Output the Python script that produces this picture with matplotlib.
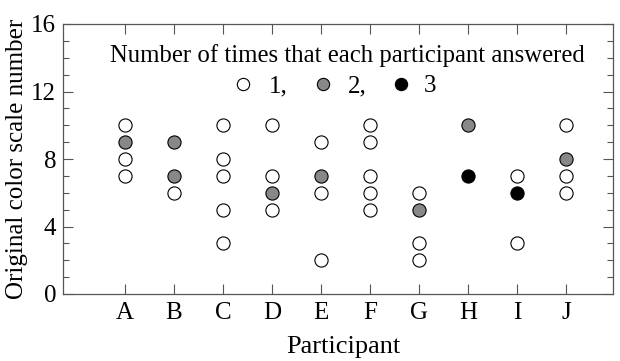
import numpy as np
import matplotlib.pyplot as plt
from matplotlib.ticker import MultipleLocator

# participants and their answers (value, number of times answered)
participants = ["A", "B", "C", "D", "E", "F", "G", "H", "I", "J"]
answers = {
    "A": [(10, 1), (9, 2), (8, 1), (7, 1)],
    "B": [(9, 2), (7, 2), (6, 1)],
    "C": [(10, 1), (8, 1), (7, 1), (5, 1), (3, 1)],
    "D": [(10, 1), (7, 1), (6, 2), (5, 1)],
    "E": [(9, 1), (7, 2), (6, 1), (2, 1)],
    "F": [(10, 1), (9, 1), (7, 1), (6, 1), (5, 1)],
    "G": [(6, 1), (5, 2), (3, 1), (2, 1)],
    "H": [(10, 2), (7, 3)],
    "I": [(7, 1), (6, 3), (3, 1)],
    "J": [(10, 1), (8, 2), (7, 1), (6, 1)],
}
count_colors = {1: "white", 2: "#888888", 3: "black"}
count_labels = {1: "1,", 2: "2,", 3: "3"}

plt.rcParams["font.family"] = "Liberation Serif"

fig = plt.figure(figsize=(6.2, 3.61), dpi=100)
ax = fig.add_axes([63 / 620, 1 - 294 / 361, 550 / 620, 270 / 361])

for count in (1, 2, 3):
    xs, ys = [], []
    for i, p in enumerate(participants):
        for val, n in answers[p]:
            if n == count:
                xs.append(i + 1)
                ys.append(val)
    ax.scatter(xs, ys, s=90, facecolor=count_colors[count], edgecolor="black",
               linewidth=0.8, zorder=3)

ax.set_xlim(1 - 1.265, 10.96)
ax.set_ylim(0, 16)
ax.set_xticks(range(1, len(participants) + 1))
ax.set_xticklabels(participants)
ax.yaxis.set_major_locator(MultipleLocator(4))
ax.yaxis.set_minor_locator(MultipleLocator(1))
ax.tick_params(which="both", direction="in", top=True, right=True, labelsize=18,
               width=0.8, color="#555555")
ax.tick_params(which="major", length=7)
ax.tick_params(which="minor", length=4)
ax.tick_params(axis="x", pad=6)
ax.tick_params(axis="y", pad=5)
for sp in ax.spines.values():
    sp.set_color("#555555")
    sp.set_linewidth(0.9)

ax.set_xlabel("Participant", fontsize=19, labelpad=8)
ax.xaxis.set_label_coords(0.51, -0.155)
ax.set_ylabel("Original color scale number", fontsize=18, labelpad=2)

# legend drawn by hand, laid out like the original
ax.text(0.517, 0.859, "Number of times that each participant answered",
        transform=ax.transAxes, ha="center", va="baseline", fontsize=17.8)
key_marker_x = {1: 0.327, 2: 0.4727, 3: 0.6145}
key_text_x = {1: 0.3745, 2: 0.518, 3: 0.656}
for count in (1, 2, 3):
    ax.scatter([key_marker_x[count]], [0.778], s=78, transform=ax.transAxes,
               facecolor=count_colors[count], edgecolor="black", linewidth=0.8,
               clip_on=False, zorder=3)
    ax.text(key_text_x[count], 0.748, count_labels[count], transform=ax.transAxes,
            ha="left", va="baseline", fontsize=18)

fig.savefig("out.png", dpi=100)
